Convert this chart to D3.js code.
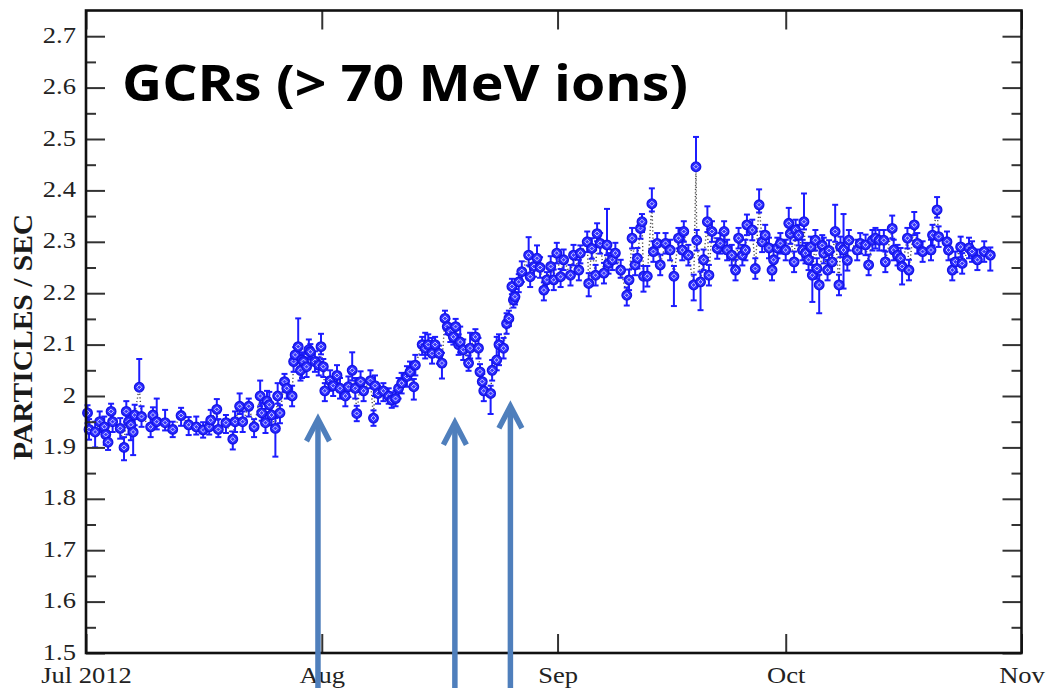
<!DOCTYPE html>
<html>
<head>
<meta charset="utf-8">
<script src="https://cdn.jsdelivr.net/npm/d3@7"></script>
<style>
  html, body { margin: 0; padding: 0; background: #fff; }
  svg { display: block; }
</style>
</head>
<body>
<svg id="chart" width="1047" height="688"></svg>
<script>
// Count rate of galactic cosmic rays, July - October 2012.
// Time is given in days after 2012-07-01 00:00 UTC.
const dayOffsets = [
  0.2, 0.4, 1.2, 1.8, 2.4, 2.6, 2.9, 3.3, 3.5, 4.5,
  5.0, 5.3, 5.6, 5.9, 6.2, 6.4, 7.0, 7.3, 8.5, 8.8,
  9.3, 10.4, 11.4, 12.5, 13.5, 14.5, 15.4, 16.2, 16.4, 17.2,
  17.4, 18.4, 19.3, 19.6, 20.2, 20.6, 21.4, 22.1, 22.9, 23.1,
  23.6, 23.8, 24.1, 24.4, 24.9, 25.2, 25.5, 26.1, 26.4, 27.1,
  27.3, 27.5, 27.9, 28.2, 28.4, 28.6, 29.0, 29.3, 29.5, 30.1,
  30.6, 30.9, 31.2, 31.4, 32.1, 32.5, 33.0, 33.4, 34.1, 34.5,
  35.0, 35.4, 35.6, 36.1, 36.5, 37.4, 37.8, 38.0, 38.4, 39.1,
  39.8, 40.2, 40.7, 41.1, 41.5, 42.2, 42.6, 43.1, 43.3, 44.2,
  44.6, 45.0, 45.5, 45.9, 46.4, 46.8, 47.2, 47.5, 47.9, 48.3,
  48.6, 49.0, 49.2, 49.6, 50.3, 50.5, 51.2, 51.6, 51.8, 52.1,
  52.3, 53.2, 53.4, 54.0, 54.3, 54.9, 55.3, 55.6, 56.0, 56.2,
  56.4, 56.9, 57.3, 58.2, 58.4, 58.9, 59.3, 59.7, 60.2, 60.6,
  61.1, 61.5, 61.9, 62.4, 62.8, 63.7, 64.1, 64.8, 65.0, 65.9,
  66.1, 66.5, 67.0, 67.2, 67.6, 68.1, 68.5, 68.7, 69.2, 69.6,
  70.3, 71.1, 71.4, 71.8, 72.2, 72.5, 72.9, 73.1, 73.3, 73.8,
  74.4, 74.6, 75.1, 75.5, 76.2, 76.8, 77.3, 77.9, 78.4, 78.6,
  79.2, 79.9, 80.2, 80.3, 80.8, 81.2, 81.7, 81.9, 82.3, 83.0,
  83.4, 83.9, 84.3, 84.9, 85.4, 85.8, 86.3, 86.7, 86.9, 87.6,
  88.0, 88.5, 88.9, 89.3, 89.8, 90.2, 90.4, 90.9, 91.3, 92.0,
  92.4, 92.6, 93.1, 93.3, 93.7, 94.2, 94.4, 94.6, 95.0, 95.3,
  95.5, 95.9, 96.1, 96.4, 96.8, 97.0, 97.5, 97.7, 98.1, 98.5,
  99.0, 99.2, 99.6, 100.1, 100.3, 101.4, 101.8, 102.5, 102.9, 103.4,
  103.8, 104.3, 104.9, 105.1, 106.0, 106.2, 106.7, 107.1, 107.3, 108.0,
  108.2, 108.9, 109.3, 110.0, 111.1, 111.3, 111.9, 112.1, 113.2, 113.4,
  113.9, 114.3, 115.0, 115.2, 116.1, 116.5, 117.2, 118.1, 118.9
];

// Particles per second
const rates = [
  1.967, 1.935, 1.930, 1.950, 1.940, 1.925, 1.910, 1.970, 1.950, 1.937,
  1.900, 1.970, 1.950, 1.944, 1.930, 1.963, 2.017, 1.960, 1.940, 1.963,
  1.950, 1.948, 1.935, 1.962, 1.944, 1.940, 1.934, 1.940, 1.953, 1.974,
  1.935, 1.948, 1.916, 1.950, 1.980, 1.950, 1.980, 1.940, 2.000, 1.967,
  1.948, 1.990, 1.983, 1.963, 1.937, 2.000, 1.967, 2.028, 2.015, 2.000,
  2.067, 2.080, 2.096, 2.050, 2.070, 2.067, 2.057, 2.090, 2.086, 2.067,
  2.060, 2.096, 2.057, 2.010, 2.030, 2.020, 2.040, 2.015, 2.000, 2.018,
  2.050, 2.015, 1.966, 2.028, 2.010, 2.030, 1.957, 2.020, 2.005, 2.010,
  2.000, 1.992, 1.995, 2.015, 2.025, 2.038, 2.047, 2.018, 2.060, 2.100,
  2.093, 2.100, 2.083, 2.100, 2.083, 2.064, 2.151, 2.135, 2.125, 2.115,
  2.135, 2.100, 2.105, 2.090, 2.064, 2.093, 2.115, 2.093, 2.047, 2.028,
  2.010, 2.005, 2.050, 2.070, 2.100, 2.093, 2.141, 2.151, 2.213, 2.187,
  2.193, 2.222, 2.242, 2.274, 2.232, 2.252, 2.268, 2.250, 2.206, 2.226,
  2.252, 2.226, 2.278, 2.232, 2.265, 2.235, 2.274, 2.245, 2.278, 2.300,
  2.219, 2.287, 2.235, 2.316, 2.297, 2.239, 2.294, 2.258, 2.265, 2.278,
  2.245, 2.196, 2.226, 2.307, 2.255, 2.268, 2.326, 2.339, 2.233, 2.233,
  2.374, 2.281, 2.297, 2.255, 2.297, 2.284, 2.233, 2.307, 2.284, 2.320,
  2.274, 2.216, 2.446, 2.303, 2.222, 2.265, 2.339, 2.235, 2.320, 2.287,
  2.297, 2.320, 2.284, 2.274, 2.245, 2.307, 2.274, 2.284, 2.333, 2.323,
  2.248, 2.372, 2.300, 2.313, 2.288, 2.245, 2.265, 2.288, 2.297, 2.284,
  2.336, 2.316, 2.261, 2.323, 2.313, 2.284, 2.339, 2.278, 2.265, 2.290,
  2.235, 2.303, 2.248, 2.216, 2.293, 2.278, 2.245, 2.283, 2.261, 2.320,
  2.216, 2.290, 2.284, 2.264, 2.303, 2.284, 2.297, 2.294, 2.255, 2.303,
  2.307, 2.303, 2.303, 2.261, 2.326, 2.284, 2.274, 2.268, 2.252, 2.307,
  2.245, 2.333, 2.297, 2.281, 2.284, 2.313, 2.362, 2.310, 2.300, 2.284,
  2.245, 2.261, 2.290, 2.258, 2.288, 2.281, 2.265, 2.281, 2.274
];

// Upper and lower uncertainty of each rate
const errUp = [
  .015, .02, .02, .02, .02, .015, .015, .015, .02, .02,
  .02, .02, .02, .02, .015, .02, .055, .02, .02, .015,
  .045, .025, .015, .015, .015, .02, .015, .015, .02, .02,
  .02, .015, .015, .02, .025, .02, .015, .015, .03, .02,
  .02, .02, .025, .02, .02, .025, .015, .015, .015, .02,
  .015, .015, .055, .02, .015, .015, .015, .02, .015, .02,
  .015, .025, .015, .015, .02, .015, .02, .02, .015, .02,
  .035, .02, .015, .02, .02, .02, .015, .02, .015, .015,
  .015, .015, .015, .02, .02, .02, .02, .015, .02, .015,
  .03, .02, .03, .015, .015, .02, .015, .015, .015, .015,
  .015, .02, .03, .02, .015, .03, .015, .02, .015, .015,
  .02, .015, .02, .045, .02, .02, .02, .015, .015, .015,
  .015, .015, .02, .035, .02, .02, .025, .02, .015, .015,
  .02, .02, .02, .015, .02, .02, .02, .02, .015, .02,
  .02, .02, .02, .02, .02, .02, .07, .02, .02, .02,
  .02, .015, .02, .02, .02, .02, .015, .015, .02, .02,
  .03, .02, .02, .02, .02, .02, .02, .02, .02, .02,
  .02, .02, .058, .02, .02, .02, .03, .02, .02, .02,
  .02, .02, .02, .02, .02, .02, .02, .02, .02, .02,
  .02, .03, .02, .02, .02, .02, .02, .02, .02, .02,
  .03, .02, .02, .02, .02, .02, .055, .02, .02, .02,
  .02, .02, .02, .02, .02, .03, .02, .02, .02, .052,
  .02, .02, .07, .02, .02, .02, .02, .02, .02, .02,
  .02, .02, .02, .02, .025, .02, .02, .02, .02, .02,
  .02, .025, .02, .02, .02, .02, .025, .02, .02, .02,
  .02, .02, .02, .02, .02, .02, .02, .02, .015
];
const errDown = [
  .02, .02, .03, .02, .015, .02, .015, .02, .02, .02,
  .025, .02, .025, .03, .045, .02, 0, .02, .02, .02,
  .015, .015, .015, .02, .02, .015, .015, .015, .015, .02,
  .015, .02, .02, .02, .015, .02, .02, .02, .02, .015,
  .02, .015, .015, .02, .055, .015, .02, .02, .02, .02,
  .02, .015, .015, .02, .035, .02, .02, .015, .015, .02,
  .02, .015, .02, .02, .02, .02, .015, .02, .02, .02,
  .02, .02, .015, .02, .02, .015, .015, .02, .02, .02,
  .015, .015, .015, .02, .02, .02, .015, .025, .02, .02,
  .02, .02, .02, .02, .02, .03, .015, .015, .02, .015,
  .02, .02, .02, .02, .015, .02, .02, .02, .02, .02,
  .02, .04, .02, .02, .04, .02, .02, .015, .015, .015,
  .015, .02, .02, .02, .02, .02, .02, .02, .02, .02,
  .02, .02, .02, .02, .02, .02, .02, .02, .02, .02,
  .025, .02, .02, .015, .02, .02, .02, .02, .02, .02,
  .015, .02, .02, .02, .02, .02, .02, .02, .03, .02,
  .015, .02, .02, .02, .02, .02, .058, .02, .02, .02,
  .02, .03, 0, .02, .055, .02, .02, .02, .02, .02,
  .02, .02, .02, .02, .02, .02, .02, .02, .02, .02,
  .02, .015, .02, .02, .02, .02, .02, .02, .02, .02,
  .02, .02, .02, .02, .02, .02, .015, .02, .02, .02,
  .052, .02, .02, .055, .02, .02, .02, .02, .02, .02,
  .02, .02, .075, .02, .02, .02, .02, .02, .02, .02,
  .02, .02, .02, .02, .02, .02, .02, .02, .035, .02,
  .02, .02, .02, .02, .02, .02, .015, .02, .02, .02,
  .02, .02, .02, .02, .02, .02, .02, .02, .03
];

const yMajorTicks = [1.5, 1.6, 1.7, 1.8, 1.9, 2.0, 2.1, 2.2, 2.3, 2.4, 2.5, 2.6, 2.7];
const yMinorTicks = [1.55, 1.65, 1.75, 1.85, 1.95, 2.05, 2.15, 2.25, 2.35, 2.45, 2.55, 2.65];
const monthStarts = ["2012-07-01", "2012-08-01", "2012-09-01", "2012-10-01", "2012-11-01"];
const monthLabels = ["Jul 2012", "Aug", "Sep", "Oct", "Nov"];

// Annotation arrows: time (days after Jul 1) and the rate their tips point at
const arrowDays = [30.5, 48.5, 55.8];
const arrowTips = [1.955, 1.948, 1.980];

const titleText = "GCRs (> 70 MeV ions)";
const yAxisTitle = "PARTICLES / SEC";

const W = 1047, H = 688;
const plot = { left: 86, right: 1021.5, top: 10.5, bottom: 653 };
const t0 = Date.UTC(2012, 6, 1);
const DAY = 864e5;

const svg = d3.select("#chart");

const x = d3.scaleUtc()
  .domain([new Date(monthStarts[0] + "T00:00:00Z"), new Date(monthStarts[4] + "T00:00:00Z")])
  .range([plot.left, plot.right]);
const y = d3.scaleLinear().domain([1.5, 2.75]).range([plot.bottom, plot.top]);

const points = dayOffsets.map((d, i) => ({
  date: new Date(t0 + d * DAY),
  v: rates[i],
  up: errUp[i],
  dn: errDown[i]
}));

const BLUE = "#1c1cff";
const serif = "'Liberation Serif', 'Times New Roman', serif";
const stretch = 1.18;

// --- dotted connecting line ---
svg.append("path")
  .datum(points)
  .attr("fill", "none")
  .attr("stroke", "#4a4a4a")
  .attr("stroke-width", 1.4)
  .attr("stroke-dasharray", "1.2,2.4")
  .attr("d", d3.line().x(d => x(d.date)).y(d => y(d.v)));

// --- error bars ---
const eb = svg.append("g")
  .attr("stroke", BLUE)
  .attr("stroke-width", 2)
  .attr("fill", "none");
points.forEach(p => {
  const px = x(p.date);
  const y0 = y(p.v);
  if (p.up > 0) {
    const y1 = y(p.v + p.up);
    eb.append("line").attr("x1", px).attr("x2", px).attr("y1", y0).attr("y2", y1);
    eb.append("line").attr("x1", px - 3).attr("x2", px + 3).attr("y1", y1).attr("y2", y1);
  }
  if (p.dn > 0) {
    const y2 = y(p.v - p.dn);
    eb.append("line").attr("x1", px).attr("x2", px).attr("y1", y0).attr("y2", y2);
    eb.append("line").attr("x1", px - 3).attr("x2", px + 3).attr("y1", y2).attr("y2", y2);
  }
});

// --- markers: filled circle with an open diamond ---
const marker = svg.append("g").selectAll("g.pt")
  .data(points)
  .join("g")
  .attr("class", "pt")
  .attr("transform", d => `translate(${x(d.date)},${y(d.v)})`);
marker.append("circle")
  .attr("r", 4.8)
  .attr("fill", "#2a2aff")
  .attr("stroke", "#1414e6")
  .attr("stroke-width", 1.3);
marker.append("path")
  .attr("d", "M0,-2.5L2.5,0L0,2.5L-2.5,0Z")
  .attr("fill", "#3a3aff")
  .attr("stroke", "#dcdcff")
  .attr("stroke-width", 0.9);

// --- axes (ticks point into the plot on all four sides) ---
const tickStyle = g => {
  g.select(".domain").remove();
  g.selectAll(".tick line").attr("stroke", "#333").attr("stroke-width", 2);
};
const fmtY = v => (Math.abs(v - 2) < 1e-9 ? "2" : v.toFixed(1));

const left = svg.append("g")
  .attr("transform", `translate(${plot.left},0)`)
  .call(d3.axisLeft(y).tickValues(yMajorTicks).tickSize(-19).tickPadding(10).tickFormat(fmtY))
  .call(tickStyle);
svg.append("g")
  .attr("transform", `translate(${plot.left},0)`)
  .call(d3.axisLeft(y).tickValues(yMinorTicks).tickSize(-10).tickFormat(""))
  .call(tickStyle);
svg.append("g")
  .attr("transform", `translate(${plot.right},0)`)
  .call(d3.axisRight(y).tickValues(yMajorTicks).tickSize(-19).tickFormat(""))
  .call(tickStyle);
svg.append("g")
  .attr("transform", `translate(${plot.right},0)`)
  .call(d3.axisRight(y).tickValues(yMinorTicks).tickSize(-10).tickFormat(""))
  .call(tickStyle);

const monthDates = monthStarts.map(s => new Date(s + "T00:00:00Z"));
const bottom = svg.append("g")
  .attr("transform", `translate(0,${plot.bottom})`)
  .call(d3.axisBottom(x).tickValues(monthDates).tickSize(-19).tickPadding(14)
    .tickFormat((d, i) => monthLabels[i]))
  .call(tickStyle);
svg.append("g")
  .attr("transform", `translate(0,${plot.top})`)
  .call(d3.axisTop(x).tickValues(monthDates).tickSize(-19).tickFormat(""))
  .call(tickStyle);

// tick label typography: serif, slightly widened
[left, bottom].forEach(g => {
  g.selectAll(".tick text").each(function () {
    const t = d3.select(this);
    const tx = +t.attr("x") || 0;
    t.attr("x", 0)
      .attr("transform", `translate(${tx},0) scale(${stretch},1)`)
      .attr("font-family", serif)
      .attr("font-size", 22.5)
      .attr("fill", "#222");
  });
});
left.selectAll(".tick text").attr("dy", "0.27em");

// --- frame ---
svg.append("rect")
  .attr("x", plot.left)
  .attr("y", plot.top)
  .attr("width", plot.right - plot.left)
  .attr("height", plot.bottom - plot.top)
  .attr("fill", "none")
  .attr("stroke", "#111")
  .attr("stroke-width", 2.6);

// --- y axis title ---
svg.append("text")
  .attr("transform", `translate(32,${(y(1.88) + y(2.35)) / 2}) scale(${stretch},1) rotate(-90)`)
  .attr("text-anchor", "middle")
  .attr("font-family", serif)
  .attr("font-weight", "bold")
  .attr("font-size", 24)
  .attr("fill", "#1a1a1a")
  .attr("textLength", 246)
  .attr("lengthAdjust", "spacingAndGlyphs")
  .text(yAxisTitle);

// --- headline ---
svg.append("text")
  .attr("x", 122)
  .attr("y", 101)
  .attr("font-family", "'Open Sans', 'Noto Sans', sans-serif")
  .attr("font-weight", "bold")
  .attr("font-size", 51)
  .attr("fill", "#000")
  .attr("textLength", 566)
  .attr("lengthAdjust", "spacingAndGlyphs")
  .text(titleText);

// --- annotation arrows ---
const ARROW = "#4f7fbc";
const ag = svg.append("g")
  .attr("stroke", ARROW)
  .attr("stroke-width", 5.5)
  .attr("fill", "none");
arrowDays.forEach((d, i) => {
  const ax = x(new Date(t0 + d * DAY));
  const ay = y(arrowTips[i]);
  ag.append("line")
    .attr("x1", ax).attr("x2", ax)
    .attr("y1", ay + 2).attr("y2", H + 5);
  ag.append("path")
    .attr("stroke-linejoin", "miter")
    .attr("d", `M${ax - 11.5},${ay + 22}L${ax},${ay}L${ax + 11.5},${ay + 22}`);
});
</script>
</body>
</html>
